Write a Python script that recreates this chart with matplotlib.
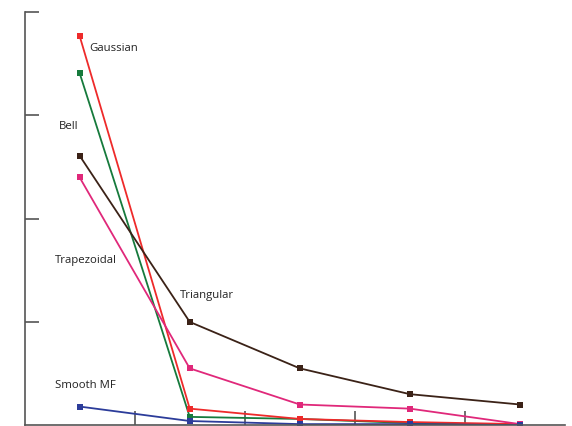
import numpy as np
import matplotlib
matplotlib.use('Agg')
import matplotlib.pyplot as plt

# data
x_pos = [1, 2, 3, 4, 5]
gaussian = [3.77, 0.16, 0.06, 0.03, 0.01]
bell = [3.41, 0.08, 0.06, 0.02, 0.0]
triangular = [2.61, 1.00, 0.55, 0.30, 0.20]
trapezoidal = [2.40, 0.55, 0.20, 0.16, 0.01]
smooth_mf = [0.18, 0.04, 0.01, 0.01, 0.0]

labels = ['Gaussian', 'Bell', 'Trapezoidal', 'Triangular', 'Smooth MF']
label_xy = [(1.09, 3.66), (0.81, 2.90), (0.78, 1.60), (1.91, 1.27), (0.78, 0.39)]

plt.rcParams['font.family'] = ['Open Sans', 'DejaVu Sans']

fig = plt.figure(figsize=(5.72, 4.27), dpi=100)
ax = fig.add_axes([0.043, 0.002, 0.945, 0.967])

series = [
    (bell, '#167a3c'),
    (gaussian, '#ee2a2a'),
    (trapezoidal, '#e0287a'),
    (triangular, '#3b2217'),
    (smooth_mf, '#2c3c9a'),
]
for vals, col in series:
    ax.plot(x_pos, vals, color=col, linewidth=1.3, marker='s', markersize=4.2,
            markeredgewidth=0, solid_joinstyle='miter')

for txt, (tx, ty) in zip(labels, label_xy):
    ax.text(tx, ty, txt, fontsize=8.2, color='#222222', va='center', ha='left')

ax.set_xlim(0.5, 5.41)
ax.set_ylim(0, 4)
ax.set_xticks([1.5, 2.5, 3.5, 4.5])
ax.set_yticks([1, 2, 3, 4])
ax.set_xticklabels([])
ax.set_yticklabels([])
ax.tick_params(direction='in', length=10, width=1.2, color='#555555')
for s in ['top', 'right']:
    ax.spines[s].set_visible(False)
for s in ['left', 'bottom']:
    ax.spines[s].set_color('#555555')
    ax.spines[s].set_linewidth(1.2)

fig.savefig('out.png', dpi=100)
